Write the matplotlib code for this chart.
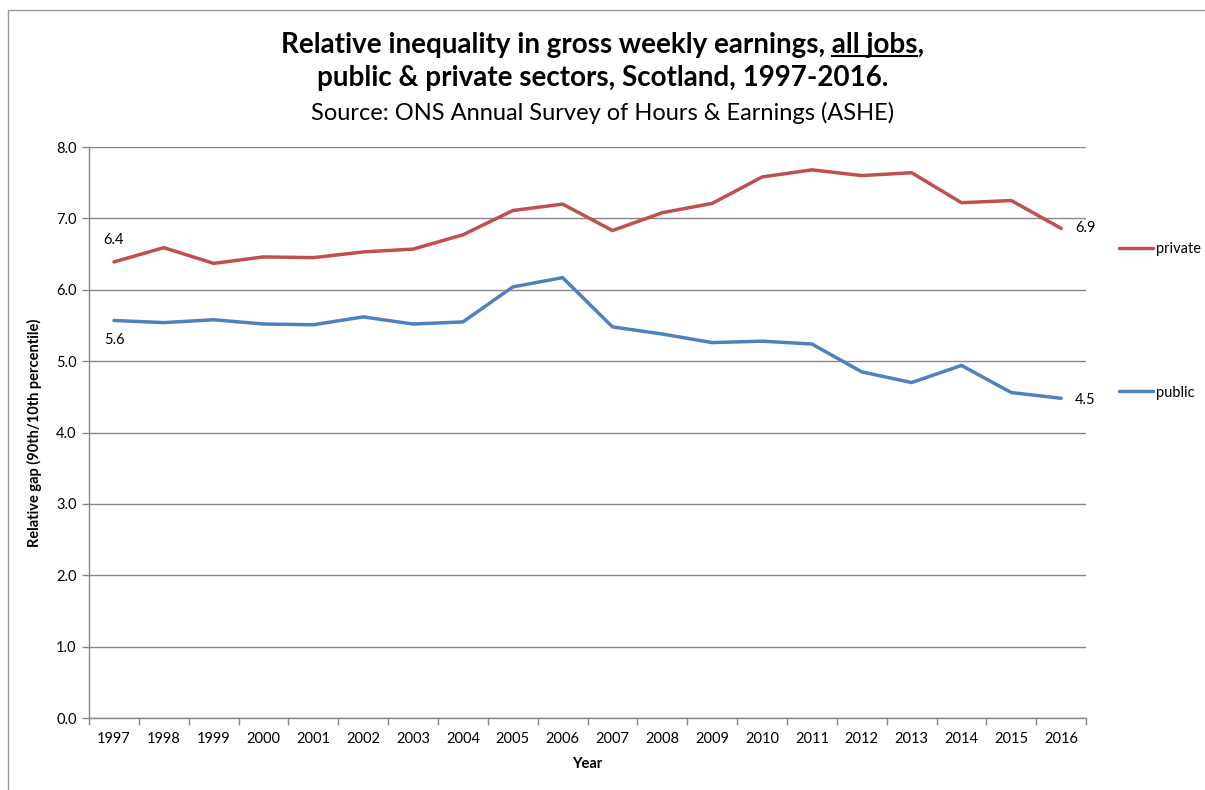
import matplotlib
matplotlib.use("Agg")
import matplotlib.pyplot as plt
from matplotlib.lines import Line2D

plt.rcParams["font.family"] = ["Lato", "DejaVu Sans"]

years = [str(y) for y in range(1997, 2017)]
private = [6.39, 6.59, 6.37, 6.46, 6.45, 6.53, 6.57, 6.77, 7.11, 7.20,
           6.83, 7.08, 7.21, 7.58, 7.68, 7.60, 7.64, 7.22, 7.25, 6.86]
public = [5.57, 5.54, 5.58, 5.52, 5.51, 5.62, 5.52, 5.55, 6.04, 6.17,
          5.48, 5.38, 5.26, 5.28, 5.24, 4.85, 4.70, 4.94, 4.56, 4.48]
y_ticks = [0, 1, 2, 3, 4, 5, 6, 7, 8]

RED = "#C0504D"
BLUE = "#4F81BD"
GRID = "#868686"


def draw_chart():
    fig = plt.figure(figsize=(12.05, 7.9), dpi=100)
    ax = fig.add_axes([0.0739, 0.0911, 0.8274, 0.7228])

    x = list(range(len(years)))
    ax.plot(x, private, color=RED, lw=2.5, label="private", solid_capstyle="round")
    ax.plot(x, public, color=BLUE, lw=2.5, label="public", solid_capstyle="round")

    ax.set_xlim(-0.5, len(years) - 0.5)
    ax.set_ylim(0, 8)
    ax.set_yticks(y_ticks)
    ax.set_yticklabels([f"{v:.1f}" for v in y_ticks])
    ax.set_xticks(x)
    ax.set_xticklabels(years)
    ax.set_xticks([i - 0.5 for i in range(len(years) + 1)], minor=True)
    ax.tick_params(axis="x", which="major", length=0, pad=10, labelsize=10.5, colors="black")
    ax.tick_params(axis="x", which="minor", length=5, color=GRID, width=1)
    ax.tick_params(axis="y", length=5, color=GRID, width=1, labelsize=10.5, pad=4)

    ax.grid(axis="y", color=GRID, lw=1)
    ax.set_axisbelow(True)
    for s in ["top", "right"]:
        ax.spines[s].set_visible(False)
    for s in ["left", "bottom"]:
        ax.spines[s].set_color(GRID)
        ax.spines[s].set_linewidth(1)

    ax.set_ylabel("Relative gap (90th/10th percentile)", fontsize=10.5, fontweight="bold", labelpad=10)
    ax.set_xlabel("Year", fontsize=10.5, fontweight="bold", labelpad=8)

    # data labels at the ends
    ax.annotate(f"{private[0]:.1f}", (0, private[0]), xytext=(0, 11), textcoords="offset points",
                ha="center", va="bottom", fontsize=10.5)
    ax.annotate(f"{public[0]:.1f}", (0, public[0]), xytext=(0, -9), textcoords="offset points",
                ha="center", va="top", fontsize=10.5)
    ax.annotate(f"{private[-1]:.1f}", (x[-1], private[-1]), xytext=(10, 0), textcoords="offset points",
                ha="left", va="center", fontsize=10.5, annotation_clip=False)
    ax.annotate(f"{public[-1]:.1f}", (x[-1], public[-1]), xytext=(10, -1), textcoords="offset points",
                ha="left", va="center", fontsize=10.5, annotation_clip=False)

    ax.legend(loc="upper left", bbox_to_anchor=(1.02, 0.857), frameon=False, fontsize=10.5,
              handlelength=2.3, handletextpad=0.2, labelspacing=8.9)

    # title lines
    line1 = "Relative inequality in gross weekly earnings, all jobs,"
    t1 = fig.text(0.5, 1 - 45 / 790, line1, ha="center", va="center",
                  fontsize=20, fontweight="bold")
    fig.text(0.5, 1 - 78 / 790, "public & private sectors, Scotland, 1997-2016.",
             ha="center", va="center", fontsize=20, fontweight="bold")
    fig.text(0.5, 1 - 113 / 790, "Source: ONS Annual Survey of Hours & Earnings (ASHE)",
             ha="center", va="center", fontsize=17)

    # underline "all jobs"
    fig.canvas.draw()
    r = fig.canvas.get_renderer()
    bb = t1.get_window_extent(r)
    pre = fig.text(0, 0, "Relative inequality in gross weekly earnings, ", fontsize=20, fontweight="bold")
    mid = fig.text(0, 0, "all jobs", fontsize=20, fontweight="bold")
    w_pre = pre.get_window_extent(r).width
    w_mid = mid.get_window_extent(r).width
    pre.remove()
    mid.remove()
    x0 = (bb.x0 + w_pre) / fig.bbox.width
    x1 = (bb.x0 + w_pre + w_mid) / fig.bbox.width
    yu = (bb.y0 + 2) / fig.bbox.height
    fig.add_artist(Line2D([x0, x1], [yu, yu], color="black", lw=1.5))

    # chart area border
    fig.add_artist(Line2D([8 / 1205, 8 / 1205, 1], [0, 1 - 10 / 790, 1 - 10 / 790],
                          color="#9a9a9a", lw=1))

    fig.savefig("out.png", dpi=100)


if __name__ == "__main__":
    draw_chart()
